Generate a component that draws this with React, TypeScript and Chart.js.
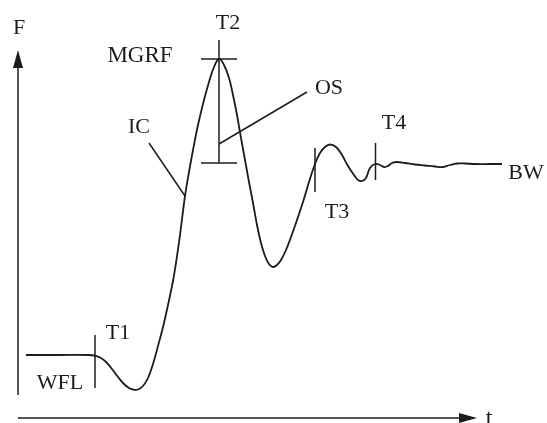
import { useEffect, useRef } from "react";
import { Chart, registerables } from "chart.js";

Chart.register(...registerables);

// ---- Data (t: time units, F: force units; origin at the axes' crossing) ----
const curveTime = [8, 42, 70, 76, 82, 88, 94, 100, 106, 111, 115, 120, 125, 130, 135, 140, 145, 150, 155, 158, 162, 167, 171, 175, 180, 186, 191, 196, 201, 206, 211, 215, 219, 223, 227, 231, 235, 239, 243, 247, 251, 255, 259, 263, 268, 273, 279, 285, 291, 297, 302, 307, 312, 318, 324, 330, 336, 340, 344, 348, 352, 357, 362, 366, 370, 374, 379, 387, 397, 407, 417, 425, 432, 439, 447, 457, 472, 484];
const curveForce = [63, 63, 63, 62.5, 60.5, 56, 49, 41, 34, 30, 28.5, 28.5, 32, 40, 54, 72, 91, 113, 137, 155, 183, 222, 246, 268, 293, 318, 336, 351, 359, 353, 340, 323, 303, 280, 258, 236, 215, 193, 175, 162, 154, 151, 153, 158, 168, 181, 198, 216, 236, 254, 265, 271, 273.5, 271, 263, 252, 243, 238, 237, 240, 250, 254, 253, 251, 252, 255, 256, 255, 253.5, 252.5, 251.5, 251, 253, 254.5, 254.5, 254, 254, 254];

// phase markers and leaders: [t0, F0, t1, F1]
const markerT1 = [77, 83, 77, 30];
const markerT2 = [201, 378, 201, 255];
const markerT3 = [297, 270, 297, 226];
const markerT4 = [357.5, 275, 357.5, 238];
const capMGRF = [183, 359, 219, 359];
const capLow = [183, 255, 219, 255];
const leaderOS = [201, 274, 289, 326];
const leaderIC = [131, 275, 167, 222];

// axes extents
const yAxisSpan = [23, 368]; // F range drawn at t = 0
const xAxisSpan = [0, 459]; // t range drawn at F = 0

// annotation texts and their anchors
const labelTexts = ["F", "MGRF", "T2", "IC", "OS", "T4", "BW", "T3", "T1", "WFL"];
const labelT = [1, 122, 210, 121, 311, 376, 508, 319, 100, 42];
const labelF = [390, 362, 394.5, 291, 330, 295, 245, 206, 85, 35];
const axisLabelT = "t";
const axisLabelPos = [471, -7];

const INK = "#1c1c1c";
const FONT = '"Liberation Serif", "Times New Roman", serif';

function seg(a: number[]) {
  return [
    { x: a[0], y: a[1] },
    { x: a[2], y: a[3] },
  ];
}

export default function App() {
  const ref = useRef<HTMLCanvasElement | null>(null);

  useEffect(() => {
    const canvas = ref.current;
    if (!canvas) return;

    const overlay = {
      id: "overlay",
      afterDatasetsDraw(chart: any) {
        const ctx = chart.ctx as CanvasRenderingContext2D;
        const xs = chart.scales.x;
        const ys = chart.scales.y;
        const px = (v: number) => xs.getPixelForValue(v);
        const py = (v: number) => ys.getPixelForValue(v);
        ctx.save();
        ctx.strokeStyle = INK;
        ctx.fillStyle = INK;
        ctx.lineWidth = 1.5;
        // y axis
        const x0 = px(0);
        const yb = py(yAxisSpan[0]);
        const yt = py(yAxisSpan[1]);
        ctx.beginPath();
        ctx.moveTo(x0, yb);
        ctx.lineTo(x0, yt + 16);
        ctx.stroke();
        ctx.beginPath();
        ctx.moveTo(x0, yt);
        ctx.lineTo(x0 - 5, yt + 18);
        ctx.lineTo(x0 + 5, yt + 18);
        ctx.closePath();
        ctx.fill();
        // x axis
        const y0 = py(0);
        const xl = px(xAxisSpan[0]);
        const xr = px(xAxisSpan[1]);
        ctx.beginPath();
        ctx.moveTo(xl, y0);
        ctx.lineTo(xr - 16, y0);
        ctx.stroke();
        ctx.beginPath();
        ctx.moveTo(xr, y0);
        ctx.lineTo(xr - 18, y0 - 5);
        ctx.lineTo(xr - 18, y0 + 5);
        ctx.closePath();
        ctx.fill();
        // labels
        ctx.textAlign = "center";
        ctx.textBaseline = "middle";
        labelTexts.forEach((txt, i) => {
          const size = txt === "MGRF" ? 23 : 22;
          ctx.font = `${size}px ${FONT}`;
          ctx.fillText(txt, px(labelT[i]), py(labelF[i]));
        });
        ctx.font = `24px ${FONT}`;
        ctx.textBaseline = "alphabetic";
        ctx.fillText(axisLabelT, px(axisLabelPos[0]), py(axisLabelPos[1]));
        ctx.restore();
      },
    };

    const segStyle = {
      showLine: true,
      borderColor: INK,
      borderWidth: 1.5,
      pointRadius: 0,
      tension: 0,
    };

    const chart = new Chart(canvas, {
      type: "scatter",
      data: {
        datasets: [
          {
            data: curveTime.map((t, i) => ({ x: t, y: curveForce[i] })),
            showLine: true,
            borderColor: INK,
            borderWidth: 1.8,
            pointRadius: 0,
            tension: 0.4,
          } as any,
          { data: seg(markerT1), ...segStyle },
          { data: seg(markerT2), ...segStyle },
          { data: seg(markerT3), ...segStyle },
          { data: seg(markerT4), ...segStyle },
          { data: seg(capMGRF), ...segStyle },
          { data: seg(capLow), ...segStyle },
          { data: seg(leaderOS), ...segStyle },
          { data: seg(leaderIC), ...segStyle },
        ],
      },
      options: {
        animation: false,
        responsive: false,
        maintainAspectRatio: false,
        layout: { padding: 0 },
        plugins: {
          legend: { display: false },
          tooltip: { enabled: false },
        },
        events: [],
        scales: {
          x: { type: "linear", display: false, min: -18, max: 529 },
          y: { type: "linear", display: false, min: -5, max: 418 },
        },
      },
      plugins: [overlay],
    });

    return () => chart.destroy();
  }, []);

  return (
    <div style={{ position: "absolute", left: 0, top: 0, width: 547, height: 423, background: "#fff" }}>
      <canvas ref={ref} width={547} height={423} style={{ display: "block", width: 547, height: 423 }} />
    </div>
  );
}
